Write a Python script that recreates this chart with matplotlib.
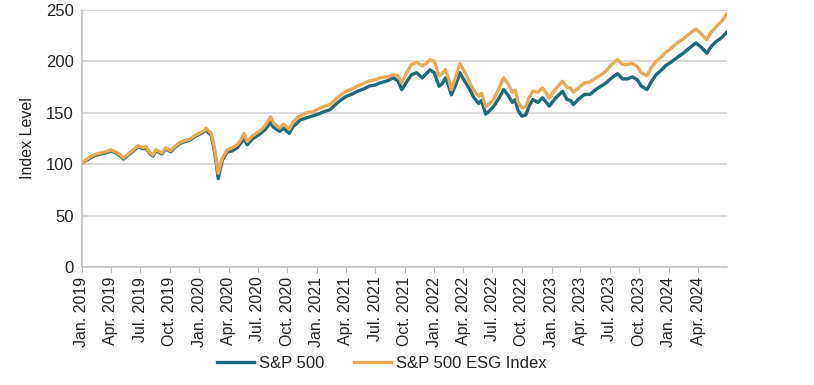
import numpy as np
import pandas as pd
import matplotlib
matplotlib.use("Agg")
import matplotlib.pyplot as plt
import matplotlib.dates as mdates

plt.rcParams["font.family"] = ["Liberation Sans", "DejaVu Sans"]

# Index levels (Jan 2019 = 100)
dates = [
    "2019-01-01", "2019-01-16", "2019-02-01", "2019-02-15", "2019-03-01", "2019-03-16",
    "2019-04-01", "2019-04-16", "2019-05-01", "2019-05-10", "2019-05-25", "2019-06-10",
    "2019-06-25", "2019-07-10", "2019-07-19", "2019-08-01", "2019-08-10", "2019-08-19",
    "2019-09-07", "2019-09-19", "2019-10-04", "2019-10-16", "2019-11-01", "2019-11-16",
    "2019-12-01", "2019-12-19",
    "2020-01-01", "2020-01-13", "2020-01-22", "2020-01-28", "2020-02-07", "2020-02-14",
    "2020-02-21", "2020-02-29", "2020-03-07", "2020-03-13", "2020-03-28", "2020-04-13",
    "2020-04-28", "2020-05-10", "2020-05-19", "2020-05-29", "2020-06-16", "2020-07-01",
    "2020-07-10", "2020-07-25", "2020-08-10", "2020-08-19", "2020-09-07", "2020-09-19",
    "2020-10-07", "2020-10-19", "2020-10-28", "2020-11-10", "2020-11-28", "2020-12-19",
    "2021-01-07", "2021-01-22", "2021-02-10", "2021-02-21", "2021-03-07", "2021-03-19",
    "2021-04-02", "2021-04-19", "2021-05-07", "2021-05-25", "2021-06-13", "2021-07-01",
    "2021-07-16", "2021-08-07", "2021-08-27", "2021-09-10", "2021-09-22", "2021-10-07",
    "2021-10-22", "2021-11-07", "2021-11-25", "2021-12-07", "2021-12-19",
    "2022-01-01", "2022-01-16", "2022-01-25", "2022-02-05", "2022-02-15", "2022-02-23",
    "2022-03-10", "2022-03-22", "2022-04-07", "2022-04-22", "2022-05-04", "2022-05-19",
    "2022-05-28", "2022-06-10", "2022-06-22", "2022-07-04", "2022-07-19", "2022-08-05",
    "2022-08-19", "2022-09-01", "2022-09-10", "2022-09-19", "2022-10-01", "2022-10-13",
    "2022-10-22", "2022-11-04", "2022-11-19", "2022-12-04", "2022-12-16", "2022-12-25",
    "2023-01-10", "2023-01-22", "2023-02-04", "2023-02-18", "2023-03-01", "2023-03-10",
    "2023-03-25", "2023-04-13", "2023-05-01", "2023-05-19", "2023-06-04", "2023-06-19",
    "2023-07-07", "2023-07-25", "2023-08-10", "2023-08-25", "2023-09-10", "2023-09-25",
    "2023-10-07", "2023-10-25", "2023-11-07", "2023-11-22", "2023-12-10", "2023-12-22",
    "2024-01-04", "2024-01-19", "2024-02-01", "2024-02-15", "2024-03-01", "2024-03-13",
    "2024-03-25", "2024-04-10", "2024-04-28", "2024-05-13", "2024-05-28", "2024-06-13",
    "2024-06-28",
]

sp500 = [
    101, 104, 107, 109, 110, 111, 113, 111, 108, 105, 109, 113,
    117, 115, 116, 110, 108, 113, 110, 115, 112, 116, 120, 122,
    123, 127,
    129, 131, 134, 131, 128, 118, 105, 86, 97, 104, 112, 113,
    116, 121, 125, 119, 125, 128, 130, 134, 141, 136, 132, 135,
    130, 137, 139, 143, 145, 147,
    149, 151, 153, 156, 160, 163, 166, 168, 171, 173, 176, 177,
    179, 181, 184, 181, 172.5, 180, 187, 189, 184, 188, 191.7,
    189, 175.8, 178, 184, 176, 167.5, 178, 189, 180, 172.5, 165, 159,
    162, 148.7, 152, 156, 163, 172.5, 167, 160, 163, 152, 146.8, 148,
    156, 163, 160, 164.6, 160, 156.5,
    163, 167, 171, 163, 162, 158, 163, 167.8, 168, 172.7, 176, 179,
    184, 188, 183, 183, 185, 182, 176, 172.7, 180, 187, 192, 196,
    198.5, 202, 205, 208, 212, 215, 218, 214, 208, 215, 219.6, 223,
    228,
]

esg = [
    101, 105, 108, 110, 111, 112, 114, 112, 109, 106, 110, 114,
    118, 116, 117, 111, 109, 114, 111, 116, 113, 117, 121, 123,
    124, 128,
    130, 132, 135, 133, 130, 121, 108, 91, 100, 106, 114, 116,
    119, 124, 130, 122, 128, 131, 133, 138, 146, 140, 135, 139,
    134, 141, 144, 147, 150, 151,
    154, 156, 158, 161, 165, 168, 171, 173, 176, 178.5, 181, 182,
    184, 185, 187, 186, 179, 189, 197, 199, 195.7, 198, 201.7,
    200, 185.8, 188, 192, 183, 172.5, 186, 198, 189, 179, 172, 166,
    169, 156, 159, 162.6, 172, 184, 178, 170, 172, 160, 155, 156,
    164, 171, 170, 174, 169, 164.6,
    172, 176, 180.7, 175, 174, 170, 174, 179, 180, 184, 187, 190.5,
    197, 201.8, 197, 197, 198, 195, 189, 186, 194, 200, 205, 209,
    211.5, 216, 219, 222, 226, 229, 231.5, 227, 221, 229, 234, 239,
    245.5,
]

x = pd.to_datetime(dates)

teal = "#1b6b7d"
gold = "#e9a955"
grid_c = "#cfcfcf"
text_c = "#222222"

fig = plt.figure(figsize=(8.14, 3.85), dpi=100)
ax = fig.add_axes([0.1007, 0.3065, 0.7925, 0.6675])

ax.plot(x, sp500, color=teal, linewidth=2.4, label="S&P 500", zorder=3)
ax.plot(x, esg, color=gold, linewidth=2.4, label="S&P 500 ESG Index", zorder=4)

ax.set_ylim(0, 250)
ax.set_yticks(np.arange(0, 251, 50))
ax.set_xlim(pd.Timestamp("2019-01-01"), pd.Timestamp("2024-06-30"))
ax.xaxis.set_major_locator(mdates.MonthLocator(bymonth=[1, 4, 7, 10]))
ax.xaxis.set_major_formatter(mdates.DateFormatter("%b. %Y"))

ax.grid(axis="y", color=grid_c, linewidth=1.1)
ax.set_axisbelow(True)
for side in ["top", "right"]:
    ax.spines[side].set_visible(False)
for side in ["left", "bottom"]:
    ax.spines[side].set_color("#bdbdbd")
    ax.spines[side].set_linewidth(1.1)

ax.tick_params(axis="y", length=0, labelsize=12, colors=text_c, pad=6)
ax.tick_params(axis="x", length=4, color="#bdbdbd", labelsize=11.5,
               labelcolor=text_c, labelrotation=90, pad=3)

ax.set_ylabel("Index Level", fontsize=11.5, color=text_c, labelpad=8)

handles, labels = ax.get_legend_handles_labels()
fig.legend(handles, labels, loc="center", bbox_to_anchor=(382 / 814, 1 - 363 / 385),
           ncol=2, frameon=False, fontsize=12, handlelength=2.2,
           handletextpad=0.3, columnspacing=1.8, labelcolor=text_c)

fig.savefig("out.png", dpi=100)
